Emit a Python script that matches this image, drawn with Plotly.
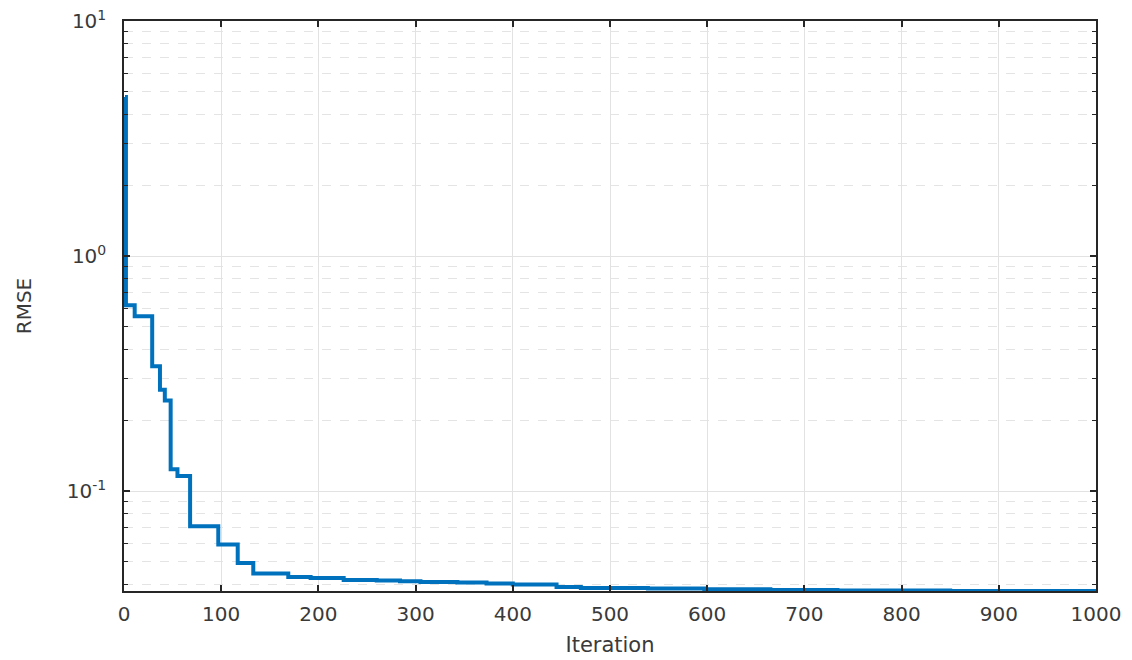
import plotly.graph_objects as go

# Step-wise convergence curve (iteration where value changes, new RMSE)
iterations = [1, 2, 11, 29, 37, 42, 48, 55, 68, 97, 117, 133, 169, 192, 226, 260,
              284, 305, 343, 373, 400, 445, 470, 539, 597, 665, 734, 850, 1000]
rmse = [4.75, 0.617, 0.554, 0.340, 0.270, 0.243, 0.124, 0.116, 0.0708, 0.0592,
        0.0494, 0.0446, 0.0431, 0.0427, 0.04185, 0.04161, 0.04132, 0.04104,
        0.04080, 0.04041, 0.04001, 0.03908, 0.03870, 0.03847, 0.03821, 0.03795,
        0.03773, 0.03758, 0.03758]

x_ticks = [0, 100, 200, 300, 400, 500, 600, 700, 800, 900, 1000]
y_ticks = [0.1, 1, 10]
y_tick_labels = ["10<sup>-1</sup>", "10<sup>0</sup>", "10<sup>1</sup>"]
y_minor = [0.04, 0.05, 0.06, 0.07, 0.08, 0.09,
           0.2, 0.3, 0.4, 0.5, 0.6, 0.7, 0.8, 0.9,
           2, 3, 4, 5, 6, 7, 8, 9]

fig = go.Figure()
fig.add_trace(go.Scatter(
    x=iterations, y=rmse, mode="lines", line_shape="hv",
    line=dict(color="#0072BD", width=4), showlegend=False,
))

axis_color = "#262626"
text_color = "#3a3a3a"
font = dict(family="DejaVu Sans, Liberation Sans, sans-serif", size=20, color=text_color)

fig.update_layout(
    width=1132, height=660,
    margin=dict(l=124, r=36, t=21, b=69),
    paper_bgcolor="white", plot_bgcolor="white",
    font=font,
)
fig.update_xaxes(
    range=[0, 1000], tickvals=x_ticks, ticktext=[str(v) for v in x_ticks],
    showgrid=True, gridcolor="#e2e2e2", gridwidth=1,
    showline=True, linecolor=axis_color, linewidth=1.5, mirror="ticks",
    ticks="inside", ticklen=6, tickcolor=axis_color, tickwidth=1.5,
    ticklabelstandoff=4, automargin=False,
    zeroline=False,
    title=dict(text="Iteration", font=dict(size=21, color=text_color), standoff=13),
)
fig.update_yaxes(
    type="log", range=[-1.425, 1], tickvals=y_ticks, ticktext=y_tick_labels,
    showgrid=True, gridcolor="#e2e2e2", gridwidth=1,
    showline=True, linecolor=axis_color, linewidth=1.5, mirror="ticks",
    ticks="inside", ticklen=6, tickcolor=axis_color, tickwidth=1.5,
    ticklabelstandoff=12, automargin=False,
    zeroline=False,
    minor=dict(tickvals=y_minor, ticks="inside", ticklen=4, tickcolor=axis_color,
               tickwidth=1, showgrid=True, gridcolor="#e4e4e4", griddash="dash",
               gridwidth=1),
    title=dict(text="RMSE", font=dict(size=20, color=text_color), standoff=30),
)

fig.write_html("out.html")
